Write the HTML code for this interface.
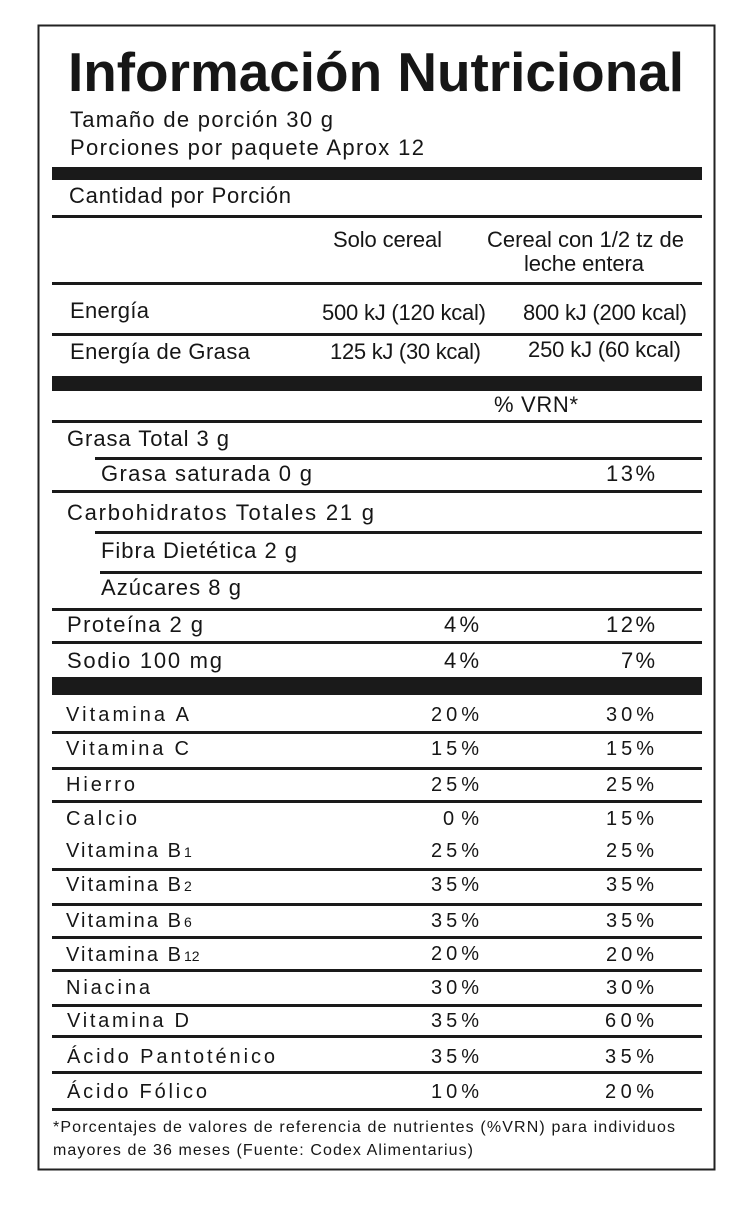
<!DOCTYPE html>
<html>
<head>
<meta charset="utf-8">
<style>
  html,body{margin:0;padding:0;background:#fff;}
  svg{display:block;}
  text{font-family:"Liberation Sans", Arial, sans-serif;fill:#161616;font-size:20px;}
  .t{font-weight:bold;font-size:55px;}
  .f{font-size:16px;}
  .s{font-size:14px;}
  .u{font-size:22px;}
</style>
</head>
<body>
<svg width="750" height="1206" viewBox="0 0 750 1206" xmlns="http://www.w3.org/2000/svg">
  <rect x="0" y="0" width="750" height="1206" fill="#fff"/>
  <rect x="38.5" y="25.5" width="676" height="1144" fill="none" stroke="#222" stroke-width="2"/>

  <!-- Title -->
  <text class="t" x="68" y="91" textLength="616" lengthAdjust="spacingAndGlyphs">Información Nutricional</text>
  <text class="u" x="70" y="127" textLength="263">Tamaño de porción 30 g</text>
  <text class="u" x="70" y="155" textLength="354">Porciones por paquete Aprox 12</text>

  <!-- bars & lines -->
  <g fill="#1a1a1a">
    <rect x="52" y="167" width="650" height="13"/>
    <rect x="52" y="215" width="650" height="3"/>
    <rect x="52" y="282" width="650" height="3"/>
    <rect x="52" y="333" width="650" height="3"/>
    <rect x="52" y="376" width="650" height="15"/>
    <rect x="52" y="420" width="650" height="3"/>
    <rect x="95" y="457" width="607" height="3"/>
    <rect x="52" y="490" width="650" height="3"/>
    <rect x="95" y="531" width="607" height="3"/>
    <rect x="100" y="571" width="602" height="3"/>
    <rect x="52" y="608" width="650" height="3"/>
    <rect x="52" y="641" width="650" height="3"/>
    <rect x="52" y="677" width="650" height="18"/>
    <rect x="52" y="731" width="650" height="3"/>
    <rect x="52" y="767" width="650" height="3"/>
    <rect x="52" y="800" width="650" height="3"/>
    <rect x="52" y="868" width="650" height="3"/>
    <rect x="52" y="903" width="650" height="3"/>
    <rect x="52" y="936" width="650" height="3"/>
    <rect x="52" y="969" width="650" height="3"/>
    <rect x="52" y="1004" width="650" height="3"/>
    <rect x="52" y="1035" width="650" height="3"/>
    <rect x="52" y="1071" width="650" height="3"/>
    <rect x="52" y="1108" width="650" height="3"/>
  </g>

  <text class="u" x="69" y="203" textLength="222">Cantidad por Porción</text>

  <text class="u" x="333" y="247" textLength="109">Solo cereal</text>
  <text class="u" x="487" y="247" textLength="197">Cereal con 1/2 tz de</text>
  <text class="u" x="524" y="271" textLength="120">leche entera</text>

  <text class="u" x="70" y="318" textLength="79">Energía</text>
  <text class="u" x="322" y="320" textLength="164">500 kJ (120 kcal)</text>
  <text class="u" x="523" y="320" textLength="164">800 kJ (200 kcal)</text>

  <text class="u" x="70" y="359" textLength="180">Energía de Grasa</text>
  <text class="u" x="330" y="359" textLength="151">125 kJ (30 kcal)</text>
  <text class="u" x="528" y="357" textLength="153">250 kJ (60 kcal)</text>

  <text class="u" x="494" y="412" textLength="84">% VRN*</text>

  <text class="u" x="67" y="446" textLength="162">Grasa Total  3 g</text>
  <text class="u" x="101" y="481" textLength="211">Grasa saturada  0 g</text>
  <text class="u" x="606" y="481" textLength="49">13%</text>
  <text class="u" x="67" y="520" textLength="307">Carbohidratos Totales 21 g</text>
  <text class="u" x="101" y="558" textLength="196">Fibra Dietética 2 g</text>
  <text class="u" x="101" y="595" textLength="140">Azúcares 8 g</text>
  <text class="u" x="67" y="632" textLength="136">Proteína 2 g</text>
  <text class="u" x="444" y="632" textLength="35">4%</text>
  <text class="u" x="606" y="632" textLength="49">12%</text>
  <text class="u" x="67" y="668" textLength="155">Sodio 100 mg</text>
  <text class="u" x="444" y="668" textLength="35">4%</text>
  <text class="u" x="621" y="668" textLength="34">7%</text>

  <!-- vitamins -->
  <text x="66" y="721" textLength="123">Vitamina A</text>
  <text x="431" y="721" textLength="48">20%</text>
  <text x="606" y="721" textLength="48">30%</text>

  <text x="66" y="755" textLength="123">Vitamina C</text>
  <text x="431" y="755" textLength="48">15%</text>
  <text x="606" y="755" textLength="48">15%</text>

  <text x="66" y="791" textLength="69">Hierro</text>
  <text x="431" y="791" textLength="48">25%</text>
  <text x="606" y="791" textLength="48">25%</text>

  <text x="66" y="825" textLength="71">Calcio</text>
  <text x="443" y="825" textLength="36">0%</text>
  <text x="606" y="825" textLength="48">15%</text>

  <text x="66" y="857" textLength="115">Vitamina B</text>
  <text class="s" x="184" y="857">1</text>
  <text x="431" y="857" textLength="48">25%</text>
  <text x="606" y="857" textLength="48">25%</text>

  <text x="66" y="891" textLength="115">Vitamina B</text>
  <text class="s" x="184" y="891">2</text>
  <text x="431" y="891" textLength="48">35%</text>
  <text x="606" y="891" textLength="48">35%</text>

  <text x="66" y="927" textLength="115">Vitamina B</text>
  <text class="s" x="184" y="927">6</text>
  <text x="431" y="927" textLength="48">35%</text>
  <text x="606" y="927" textLength="48">35%</text>

  <text x="66" y="961" textLength="115">Vitamina B</text>
  <text class="s" x="184" y="961">12</text>
  <text x="431" y="960" textLength="48">20%</text>
  <text x="606" y="961" textLength="48">20%</text>

  <text x="66" y="994" textLength="84">Niacina</text>
  <text x="431" y="994" textLength="48">30%</text>
  <text x="606" y="994" textLength="48">30%</text>

  <text x="67" y="1027" textLength="122">Vitamina D</text>
  <text x="431" y="1027" textLength="48">35%</text>
  <text x="605" y="1027" textLength="49">60%</text>

  <text x="67" y="1063" textLength="208">Ácido Pantoténico</text>
  <text x="431" y="1063" textLength="48">35%</text>
  <text x="605" y="1063" textLength="49">35%</text>

  <text x="67" y="1098" textLength="140">Ácido Fólico</text>
  <text x="431" y="1098" textLength="48">10%</text>
  <text x="605" y="1098" textLength="49">20%</text>

  <!-- footnote -->
  <text class="f" x="53" y="1132" textLength="622">*Porcentajes de valores de referencia de nutrientes (%VRN) para individuos</text>
  <text class="f" x="53" y="1155" textLength="420">mayores de 36 meses (Fuente: Codex Alimentarius)</text>
</svg>
</body>
</html>
